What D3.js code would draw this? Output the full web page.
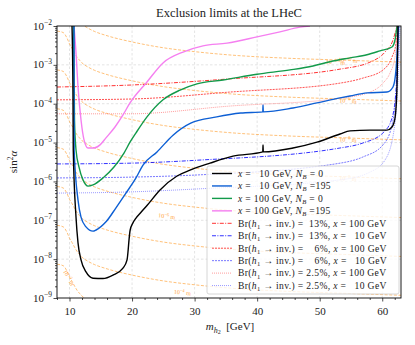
<!DOCTYPE html>
<html>
<head>
<meta charset="utf-8">
<script src="https://cdn.jsdelivr.net/npm/d3@7/dist/d3.min.js"></script>
<style>
  body { margin: 0; background: #fff; }
  svg text { font-family: "Liberation Serif", "DejaVu Serif", serif; fill: #222; white-space: pre; }
</style>
</head>
<body>
<div id="chart"></div>
<script>
// ---- data: [m_h2 (GeV), log10(sin^2 alpha)] ----
const massTicks = [10, 20, 30, 40, 50, 60];
const decadeTicks = [-9, -8, -7, -6, -5, -4, -3, -2];

const limitX10NB0 = [[10.40,-2.00],[10.56,-3.90],[10.60,-5.19],[11.04,-6.92],[11.36,-7.58],[11.84,-8.02],[12.64,-8.33],[13.76,-8.49],[15.35,-8.50],[16.95,-8.41],[18.55,-8.23],[19.20,-8.02],[19.38,-7.76],[19.51,-7.51],[19.70,-7.25],[20.10,-7.08],[20.60,-6.95],[21.40,-6.80],[22.39,-6.62],[24.47,-6.22],[27.19,-5.86],[29.26,-5.71],[32.46,-5.53],[36.14,-5.35],[40.90,-5.24],[40.94,-5.06],[40.98,-5.24],[45.73,-5.14],[49.57,-4.99],[53.25,-4.78],[54.85,-4.70],[58.04,-4.68],[60.76,-4.68],[61.56,-4.60],[62.04,-4.37],[62.36,-3.57],[62.52,-2.00]];
const limitX10NB195 = [[10.72,-2.00],[10.74,-5.19],[11.36,-6.48],[11.84,-6.92],[12.64,-7.17],[13.76,-7.28],[14.24,-7.25],[15.83,-7.04],[17.43,-6.68],[19.03,-6.30],[20.63,-5.91],[21.75,-5.58],[23.99,-5.24],[26.55,-4.81],[29.38,-4.50],[33.54,-4.34],[37.38,-4.24],[40.90,-4.21],[40.94,-4.03],[40.98,-4.21],[45.73,-4.11],[49.57,-3.98],[53.25,-3.85],[54.85,-3.80],[57.56,-3.72],[60.76,-3.70],[61.72,-3.57],[62.20,-3.13],[62.52,-2.28],[62.60,-2.00]];
const limitX100NB0 = [[10.66,-2.00],[10.80,-4.42],[11.04,-5.19],[11.52,-5.63],[12.16,-5.96],[12.96,-6.12],[13.76,-6.09],[15.35,-5.91],[17.11,-5.63],[18.71,-5.27],[19.67,-4.99],[20.63,-4.75],[22.39,-4.34],[24.95,-3.90],[27.67,-3.65],[30.38,-3.49],[34.54,-3.39],[39.98,-3.24],[45.25,-3.13],[48.93,-3.03],[51.65,-2.92],[54.85,-2.82],[57.56,-2.74],[59.64,-2.64],[61.56,-2.54],[62.04,-2.36],[62.36,-2.03],[62.40,-2.00]];
const limitX100NB195 = [[10.72,-2.00],[11.04,-2.69],[11.36,-3.57],[11.84,-4.42],[12.32,-4.93],[12.96,-5.14],[13.92,-5.14],[14.88,-5.06],[15.83,-4.88],[17.27,-4.60],[18.55,-4.29],[19.67,-3.98],[22.39,-3.44],[24.95,-2.95],[28.15,-2.67],[31.34,-2.51],[35.18,-2.44],[39.98,-2.28],[43.65,-2.15],[46.85,-2.03],[48.45,-2.00]];

// Br(h1 -> inv.) bounds
const br13X100 = [[8.0,-3.57],[19.67,-3.52],[35.66,-3.36],[53.25,-3.11],[58.04,-2.93],[60.44,-2.67],[61.72,-2.36],[62.36,-2.00]];
const br13X10 = [[8.0,-5.55],[19.67,-5.53],[30.86,-5.45],[53.25,-5.14],[56.92,-5.01],[60.12,-4.75],[61.56,-4.37],[62.20,-3.65],[62.52,-2.00]];
const br6X100 = [[8.0,-3.90],[19.67,-3.88],[35.66,-3.70],[53.25,-3.47],[56.92,-3.34],[60.12,-3.13],[61.56,-2.80],[62.20,-2.45],[62.40,-2.00]];
const br6X10 = [[8.0,-5.91],[19.67,-5.89],[30.86,-5.83],[53.25,-5.53],[56.92,-5.37],[60.12,-5.06],[61.56,-4.55],[62.36,-3.39],[62.68,-2.00]];
const br25X100 = [[8.0,-4.26],[19.67,-4.26],[35.66,-4.06],[53.25,-3.86],[58.04,-3.70],[60.12,-3.47],[61.24,-3.21],[62.04,-2.80],[62.52,-2.00]];
const br25X10 = [[8.0,-6.30],[19.67,-6.27],[30.86,-6.19],[53.25,-5.96],[58.04,-5.76],[60.44,-5.45],[61.88,-4.68],[62.52,-3.39],[62.84,-2.00]];

// decay-length contours (10^-n m)
const contourMass = [8.0, 9.0, 9.6, 10.0, 10.4, 10.8, 11.2, 11.6, 12.0, 13.0, 14.0, 16.0, 20.0, 25.0, 30.0, 36.0, 45.0, 54.0, 63.0];
const decay1e10 = [-1.13,-1.17,-1.31,-1.46,-1.57,-1.69,-1.80,-1.88,-1.95,-2.06,-2.14,-2.25,-2.41,-2.56,-2.66,-2.75,-2.83,-2.88,-2.93];
const decay1e9  = [-2.13,-2.17,-2.31,-2.46,-2.57,-2.69,-2.80,-2.88,-2.95,-3.06,-3.14,-3.25,-3.41,-3.56,-3.66,-3.75,-3.83,-3.88,-3.93];
const decay1e8  = [-3.13,-3.17,-3.31,-3.46,-3.57,-3.69,-3.80,-3.88,-3.95,-4.06,-4.14,-4.25,-4.41,-4.56,-4.66,-4.75,-4.83,-4.88,-4.93];
const decay1e7  = [-4.13,-4.17,-4.31,-4.46,-4.57,-4.69,-4.80,-4.88,-4.95,-5.06,-5.14,-5.25,-5.41,-5.56,-5.66,-5.75,-5.83,-5.88,-5.93];
const decay1e6  = [-5.13,-5.17,-5.31,-5.46,-5.57,-5.69,-5.80,-5.88,-5.95,-6.06,-6.14,-6.25,-6.41,-6.56,-6.66,-6.75,-6.83,-6.88,-6.93];
const decay1e5  = [-6.13,-6.17,-6.31,-6.46,-6.57,-6.69,-6.80,-6.88,-6.95,-7.06,-7.14,-7.25,-7.41,-7.56,-7.66,-7.75,-7.83,-7.88,-7.93];
const decay1e4  = [-7.13,-7.17,-7.31,-7.46,-7.57,-7.69,-7.80,-7.88,-7.95,-8.06,-8.14,-8.25,-8.41,-8.56,-8.66,-8.75,-8.83,-8.88,-8.93];
const decay1e3  = [-8.13,-8.17,-8.31,-8.46,-8.57,-8.69,-8.80,-8.88,-8.95,-9.06,-9.14,-9.25,-9.41,-9.56,-9.66,-9.75,-9.83,-9.88,-9.93];
const decayContours = [decay1e10, decay1e9, decay1e8, decay1e7, decay1e6, decay1e5, decay1e4, decay1e3];

// contour labels: exponent, mass, log10 sin^2, rotation
const decayLabels = [
  { e: 10, m: 52.5, v: -2.93, rot: 4 },
  { e: 10, m: 54.5, v: -2.88, rot: 4 },
  { e: 9, m: 54.5, v: -3.93, rot: 4 },
  { e: 8, m: 54.5, v: -4.93, rot: 4 },
  { e: 7, m: 54.5, v: -5.93, rot: 4 },
  { e: 6, m: 25.5, v: -6.90, rot: 7 },
  { e: 4, m: 28.0, v: -8.86, rot: 5 },
  { e: 3, m: 9.6, v: -8.45, rot: 62 }
];

// ---- layout ----
const width = 415, height = 345;
const margin = { top: 26, right: 14, bottom: 47, left: 57 };

const svg = d3.select("#chart").append("svg")
  .attr("width", width).attr("height", height)
  .attr("viewBox", `0 0 ${width} ${height}`);

const xScale = d3.scaleLinear().domain([8, 63]).range([margin.left, width - margin.right]);
const yScale = d3.scaleLog().domain([1e-9, 1e-2]).range([height - margin.bottom, margin.top]);

svg.append("defs").append("clipPath").attr("id", "plot-clip")
  .append("rect")
  .attr("x", margin.left).attr("y", margin.top)
  .attr("width", width - margin.left - margin.right)
  .attr("height", height - margin.top - margin.bottom);

// grid
const grid = svg.append("g").attr("stroke", "#d0d0d0").attr("stroke-width", 0.6).attr("stroke-dasharray", "2.5,2");
grid.selectAll("line.vx").data(massTicks).join("line")
  .attr("x1", d => xScale(d)).attr("x2", d => xScale(d))
  .attr("y1", margin.top).attr("y2", height - margin.bottom);
grid.selectAll("line.hy").data(decadeTicks.slice(1, -1)).join("line")
  .attr("x1", margin.left).attr("x2", width - margin.right)
  .attr("y1", d => yScale(10 ** d)).attr("y2", d => yScale(10 ** d));

const line = d3.line()
  .x(d => xScale(d[0]))
  .y(d => yScale(10 ** d[1]))
  .curve(d3.curveMonotoneX);

const plot = svg.append("g").attr("clip-path", "url(#plot-clip)");

// decay-length contours
plot.selectAll("path.decay")
  .data(decayContours)
  .join("path")
    .attr("class", "decay")
    .attr("d", vals => line(vals.map((v, i) => [contourMass[i], v])))
    .attr("fill", "none")
    .attr("stroke", "#ffa33a")
    .attr("stroke-opacity", 0.85)
    .attr("stroke-width", 0.8)
    .attr("stroke-dasharray", "3,1.6");

// contour labels
plot.selectAll("text.decay-label")
  .data(decayLabels)
  .join("text")
    .attr("transform", d => `translate(${xScale(d.m)},${yScale(10 ** d.v) + 2}) rotate(${d.rot})`)
    .attr("text-anchor", "middle")
    .style("font-size", "6px")
    .style("fill", "#ffa33a")
    .each(function (d) {
      const t = d3.select(this);
      t.append("tspan").text("10");
      t.append("tspan").attr("dy", -2.5).style("font-size", "4.5px").text(`−${d.e}`);
      t.append("tspan").attr("dy", 2.5).text(" m");
    });

// Br(h1 -> inv.) lines
const brSeries = [
  { data: br13X100, color: "#ff0000", dash: "4,1.4,1,1.4", op: 0.9 },
  { data: br13X10, color: "#0000ff", dash: "4,1.4,1,1.4", op: 0.9 },
  { data: br6X100, color: "#ff1a1a", dash: "2,1", op: 0.85 },
  { data: br6X10, color: "#2a2aff", dash: "2,1", op: 0.7 },
  { data: br25X100, color: "#ff6b6b", dash: "1,1", op: 0.75 },
  { data: br25X10, color: "#6a6aff", dash: "1,1", op: 0.75 }
];
plot.selectAll("path.br")
  .data(brSeries)
  .join("path")
    .attr("class", "br")
    .attr("d", d => line(d.data))
    .attr("fill", "none")
    .attr("stroke", d => d.color)
    .attr("stroke-opacity", d => d.op)
    .attr("stroke-width", 0.9)
    .attr("stroke-dasharray", d => d.dash);

// exclusion limits
const limitSeries = [
  { data: limitX100NB195, color: "#f57ff0" },
  { data: limitX100NB0, color: "#129a4a" },
  { data: limitX10NB195, color: "#0d5fd4" },
  { data: limitX10NB0, color: "#000000" }
];
plot.selectAll("path.limit")
  .data(limitSeries)
  .join("path")
    .attr("class", "limit")
    .attr("d", d => line(d.data))
    .attr("fill", "none")
    .attr("stroke", d => d.color)
    .attr("stroke-width", 1.4)
    .attr("stroke-linejoin", "round");

// axes
const bottomAxis = d3.axisBottom(xScale).tickValues(massTicks).tickSize(3.5).tickFormat(d3.format("d"));
const xAxis = svg.append("g")
  .attr("transform", `translate(0,${height - margin.bottom})`)
  .call(bottomAxis);
xAxis.selectAll("text").style("font-size", "11px").attr("dy", "0.95em").attr("fill", "#222");
xAxis.select(".domain").remove();
svg.append("g")
  .attr("transform", `translate(0,${height - margin.bottom})`)
  .call(d3.axisBottom(xScale).tickValues(d3.range(8, 64, 2).filter(v => v % 10 !== 0)).tickSize(2).tickFormat(""))
  .select(".domain").remove();

const leftAxis = d3.axisLeft(yScale).tickValues(decadeTicks.map(d => 10 ** d)).tickSize(3.5).tickFormat("");
const yAxis = svg.append("g").attr("transform", `translate(${margin.left},0)`).call(leftAxis);
yAxis.select(".domain").remove();
const minorY = [];
decadeTicks.slice(0, -1).forEach(k => { for (let j = 2; j <= 9; j++) minorY.push(j * 10 ** k); });
svg.append("g").attr("transform", `translate(${margin.left},0)`)
  .call(d3.axisLeft(yScale).tickValues(minorY).tickSize(2).tickFormat(""))
  .select(".domain").remove();
svg.selectAll(".tick line").attr("stroke", "#000").attr("stroke-width", 0.7);

// y tick labels 10^k
svg.append("g").selectAll("text")
  .data(decadeTicks)
  .join("text")
    .attr("x", margin.left - 5)
    .attr("y", d => yScale(10 ** d) + 3.5)
    .attr("text-anchor", "end")
    .style("font-size", "11px")
    .each(function (d) {
      const t = d3.select(this);
      t.append("tspan").text("10");
      t.append("tspan").attr("dy", -4.5).style("font-size", "7.5px").text(`−${-d}`);
    });

// frame
svg.append("rect")
  .attr("x", margin.left).attr("y", margin.top)
  .attr("width", width - margin.left - margin.right)
  .attr("height", height - margin.top - margin.bottom)
  .attr("fill", "none").attr("stroke", "#000").attr("stroke-width", 0.9);

// title and axis labels
svg.append("text")
  .attr("x", (margin.left + width - margin.right) / 2).attr("y", 17)
  .attr("text-anchor", "middle")
  .style("font-size", "12.5px")
  .text("Exclusion limits at the LHeC");

const xLabel = svg.append("text")
  .attr("x", 230).attr("y", 330)
  .attr("text-anchor", "middle")
  .style("font-size", "11px");
xLabel.append("tspan").style("font-style", "italic").text("m");
xLabel.append("tspan").attr("dy", 2.5).style("font-size", "8px").style("font-style", "italic").text("h");
xLabel.append("tspan").attr("dy", 1.5).style("font-size", "6px").text("2");
xLabel.append("tspan").attr("dy", -4).text("  [GeV]");

const yLabel = svg.append("text")
  .attr("transform", `translate(17,${(margin.top + height - margin.bottom) / 2}) rotate(-90)`)
  .attr("text-anchor", "middle")
  .style("font-size", "11px");
yLabel.append("tspan").text("sin");
yLabel.append("tspan").attr("dy", -4).style("font-size", "7.5px").text("2");
yLabel.append("tspan").attr("dy", 4).style("font-style", "italic").text("α");

// legend
const legendItems = [
  { color: "#000000", width: 1.4, dash: null, op: 1, parts: [["x", "i"], [" =   10 GeV, "], ["N", "i"], ["B", "sub"], [" = 0"]] },
  { color: "#0d5fd4", width: 1.4, dash: null, op: 1, parts: [["x", "i"], [" =   10 GeV, "], ["N", "i"], ["B", "sub"], [" =195"]] },
  { color: "#129a4a", width: 1.4, dash: null, op: 1, parts: [["x", "i"], [" = 100 GeV, "], ["N", "i"], ["B", "sub"], [" = 0"]] },
  { color: "#f57ff0", width: 1.4, dash: null, op: 1, parts: [["x", "i"], [" = 100 GeV, "], ["N", "i"], ["B", "sub"], [" =195"]] },
  { color: "#ff0000", width: 0.9, dash: "4,1.4,1,1.4", op: 0.9, parts: [["Br("], ["h", "i"], ["1", "sub"], [" → inv.) =  13%, "], ["x", "i"], [" = 100 GeV"]] },
  { color: "#0000ff", width: 0.9, dash: "4,1.4,1,1.4", op: 0.9, parts: [["Br("], ["h", "i"], ["1", "sub"], [" → inv.) =  13%, "], ["x", "i"], [" =   10 GeV"]] },
  { color: "#ff1a1a", width: 0.9, dash: "2,1", op: 0.85, parts: [["Br("], ["h", "i"], ["1", "sub"], [" → inv.) =    6%, "], ["x", "i"], [" = 100 GeV"]] },
  { color: "#2a2aff", width: 0.9, dash: "2,1", op: 0.7, parts: [["Br("], ["h", "i"], ["1", "sub"], [" → inv.) =    6%, "], ["x", "i"], [" =   10 GeV"]] },
  { color: "#ff6b6b", width: 0.9, dash: "1,1", op: 0.75, parts: [["Br("], ["h", "i"], ["1", "sub"], [" → inv.) = 2.5%, "], ["x", "i"], [" = 100 GeV"]] },
  { color: "#6a6aff", width: 0.9, dash: "1,1", op: 0.75, parts: [["Br("], ["h", "i"], ["1", "sub"], [" → inv.) = 2.5%, "], ["x", "i"], [" =   10 GeV"]] }
];

const legend = svg.append("g").attr("transform", "translate(207,166)");
legend.append("rect")
  .attr("width", 192).attr("height", 128).attr("rx", 2)
  .attr("fill", "#fff").attr("fill-opacity", 0.8)
  .attr("stroke", "#ccc").attr("stroke-width", 0.8);

const rows = legend.selectAll("g.row")
  .data(legendItems)
  .join("g")
    .attr("class", "row")
    .attr("transform", (d, i) => `translate(0,${7.5 + i * 12.45})`);
rows.append("line")
  .attr("x1", 5).attr("x2", 25)
  .attr("stroke", d => d.color)
  .attr("stroke-width", d => d.width)
  .attr("stroke-opacity", d => d.op)
  .attr("stroke-dasharray", d => d.dash);
rows.append("text")
  .attr("x", 31).attr("y", 3.3)
  .style("font-size", "9.6px")
  .style("letter-spacing", "0.35px")
  .each(function (d) {
    const t = d3.select(this);
    let shifted = false;
    d.parts.forEach(([txt, kind]) => {
      const s = t.append("tspan").text(txt);
      if (kind === "i") s.style("font-style", "italic");
      if (kind === "sub") {
        s.attr("dy", 2.2).style("font-size", "6.6px");
        if (txt === "B") s.style("font-style", "italic");
        shifted = true;
      } else if (shifted) {
        s.attr("dy", -2.2);
        shifted = false;
      }
    });
  });
</script>
</body>
</html>
